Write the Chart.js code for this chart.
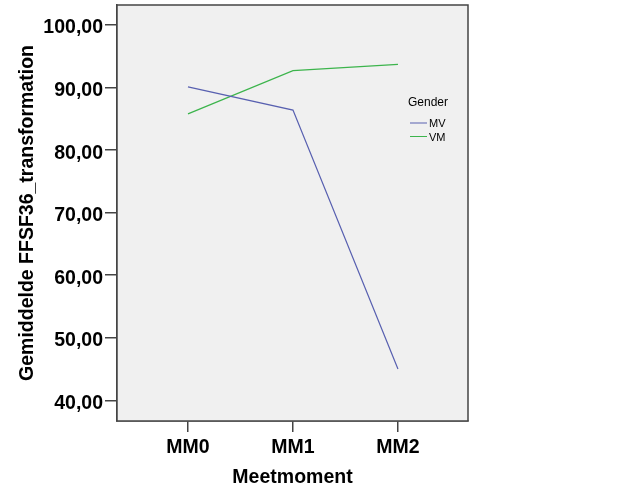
<!DOCTYPE html>
<html>
<head>
<meta charset="utf-8">
<script src="https://cdn.jsdelivr.net/npm/chart.js@4"></script>
<style>
  body { margin: 0; background: #fff; }
  #wrap { width: 626px; height: 501px; }
</style>
</head>
<body>
<div id="wrap"><canvas id="myChart" width="626" height="501"></canvas></div>
<script>
const categories = ["MM0", "MM1", "MM2"];
const seriesNames = ["MV", "VM"];
const mvValues = [90.1, 86.4, 45.0];
const vmValues = [85.8, 92.7, 93.7];
const yTicks = [40, 50, 60, 70, 80, 90, 100];

const font = "Arial, 'Liberation Sans', sans-serif";
const axisColor = "#444444";

const toPoints = function (values) {
    return values.map((v, i) => ({ x: i, y: v }));
};

// grey plot background + frame
const plotBox = {
    id: "plotBox",
    beforeDatasetsDraw(chart) {
        const a = chart.chartArea;
        const c = chart.ctx;
        c.save();
        c.fillStyle = "#f0f0f0";
        c.fillRect(a.left, a.top, a.right - a.left, a.bottom - a.top);
        c.restore();
    },
    afterDraw(chart) {
        const a = chart.chartArea;
        const c = chart.ctx;
        c.save();
        c.strokeStyle = axisColor;
        c.lineWidth = 1.5;
        c.strokeRect(a.left, a.top, a.right - a.left, a.bottom - a.top);
        c.restore();
    }
};

// legend inside the plot, like SPSS
const gridLegend = {
    id: "gridLegend",
    afterDraw(chart) {
        const c = chart.ctx;
        const x = 408;
        c.save();
        c.fillStyle = "#000";
        c.font = "12px " + font;
        c.textBaseline = "middle";
        c.fillText("Gender", x, 103);
        c.font = "11px " + font;
        chart.data.datasets.forEach((ds, i) => {
            const y = 123 + i * 13.5;
            c.strokeStyle = ds.borderColor;
            c.lineWidth = 1;
            c.beginPath();
            c.moveTo(x + 2, y);
            c.lineTo(x + 19, y);
            c.stroke();
            c.fillText(ds.label, x + 21, y + 1);
        });
        c.restore();
    }
};

const ctx = document.querySelector("#myChart");

new Chart(ctx, {
    type: "line",
    data: {
        datasets: [
            {
                label: seriesNames[0],
                data: toPoints(mvValues),
                borderColor: "#5860b0",
                borderWidth: 1.2,
                pointRadius: 0,
                tension: 0
            },
            {
                label: seriesNames[1],
                data: toPoints(vmValues),
                borderColor: "#3cb44c",
                borderWidth: 1.2,
                pointRadius: 0,
                tension: 0
            }
        ]
    },
    options: {
        responsive: false,
        animation: false,
        layout: {
            padding: { top: 5, right: 158, bottom: 0, left: 0 }
        },
        plugins: {
            legend: { display: false },
            tooltip: { enabled: false }
        },
        scales: {
            x: {
                type: "linear",
                min: -0.676,
                max: 2.667,
                afterBuildTicks: (axis) => {
                    axis.ticks = categories.map((c, i) => ({ value: i }));
                },
                afterFit: (axis) => {
                    axis.height = 80;
                    axis.paddingLeft = 0;
                    axis.paddingRight = 0;
                },
                ticks: {
                    callback: (v) => categories[v],
                    color: "#000",
                    font: { family: font, size: 19.5, weight: "bold" },
                    padding: 4,
                    maxRotation: 0
                },
                grid: {
                    drawOnChartArea: false,
                    tickLength: 11,
                    color: axisColor,
                    lineWidth: 1.5
                },
                border: { color: axisColor, width: 1.5 },
                title: {
                    display: true,
                    text: "Meetmoment",
                    color: "#000",
                    font: { family: font, size: 19.5, weight: "bold" },
                    padding: { top: 4, bottom: 12 }
                }
            },
            y: {
                min: 36.7,
                max: 103.2,
                afterBuildTicks: (axis) => {
                    axis.ticks = yTicks.map((v) => ({ value: v }));
                },
                afterFit: (axis) => {
                    axis.width = 117;
                    axis.paddingTop = 0;
                    axis.paddingBottom = 0;
                },
                ticks: {
                    callback: (v) => v.toFixed(2).replace(".", ","),
                    color: "#000",
                    font: { family: font, size: 19.5, weight: "bold" },
                    padding: 2,
                    labelOffset: 3
                },
                grid: {
                    drawOnChartArea: false,
                    tickLength: 12,
                    color: axisColor,
                    lineWidth: 1.5
                },
                border: { color: axisColor, width: 1.5 },
                title: {
                    display: true,
                    text: "Gemiddelde FFSF36_transformation",
                    color: "#000",
                    font: { family: font, size: 19.5, weight: "bold" },
                    padding: { top: 16 }
                }
            }
        }
    },
    plugins: [plotBox, gridLegend]
});
</script>
</body>
</html>
